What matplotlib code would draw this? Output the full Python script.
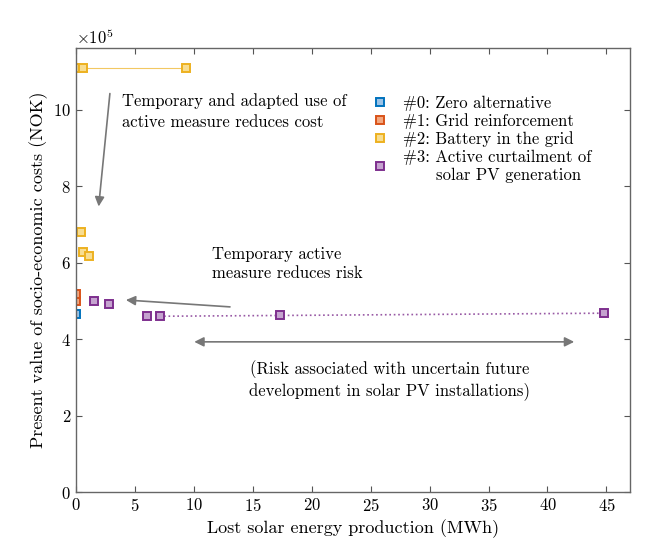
import matplotlib
matplotlib.use("Agg")
import matplotlib.pyplot as plt

plt.rcParams['font.family'] = ['cmr10', 'DejaVu Serif']
plt.rcParams['mathtext.fontset'] = 'cm'
plt.rcParams['axes.formatter.use_mathtext'] = True

# Data (values in units of 1e5 NOK)
alt0_x = [0.0]
alt0_y = [4.65]
alt1_x = [0.0, 0.0]
alt1_y = [5.0, 5.18]
alt2_x = [0.0, 0.6, 9.3, 0.4, 0.6, 1.1]
alt2_y = [11.1, 11.1, 11.1, 6.8, 6.28, 6.18]
alt2_line_x = [0.0, 9.3]
alt2_line_y = [11.1, 11.1]
alt3_x = [1.5, 2.8, 6.0, 7.1, 17.3, 44.8]
alt3_y = [5.0, 4.92, 4.6, 4.6, 4.62, 4.68]
alt3_line_x = [7.1, 17.3, 44.8]
alt3_line_y = [4.6, 4.62, 4.68]

labels = ["#0: Zero alternative", "#1: Grid reinforcement",
          "#2: Battery in the grid",
          "#3: Active curtailment of\n      solar PV generation"]
xticks = [0, 5, 10, 15, 20, 25, 30, 35, 40, 45]
yticks = [0, 2, 4, 6, 8, 10]

scale = 1e5
colors = ['#0072BD', '#D95319', '#EDB120', '#7E2F8E']
faces = ['#9cc3e6', '#f2a77f', '#f8dd90', '#c5a3cf']

fig = plt.figure(figsize=(6.59, 5.43), dpi=100)
ax = fig.add_axes([0.1153, 0.0939, 0.8407, 0.8177])

ax.plot(alt2_line_x, [v * scale for v in alt2_line_y], '-', color=colors[2], lw=0.8, alpha=0.7)
ax.plot(alt3_line_x, [v * scale for v in alt3_line_y], ':', color=colors[3], lw=1.2, alpha=0.8)

series = [(alt0_x, alt0_y), (alt1_x, alt1_y), (alt2_x, alt2_y), (alt3_x, alt3_y)]
handles = []
for (xs, ys), c, f, lab in zip(series, colors, faces, labels):
    h, = ax.plot(xs, [v * scale for v in ys], 's', ms=6, mec=c, mfc=f, mew=1.4,
                 linestyle='none', label=lab)
    handles.append(h)

ax.set_xlim(0, 47)
ax.set_ylim(0, 11.62 * scale)
ax.set_xticks(xticks)
ax.set_yticks([t * scale for t in yticks])
ax.ticklabel_format(axis='y', style='sci', scilimits=(5, 5), useMathText=True)
ax.tick_params(direction='in', top=True, right=True, labelsize=12, length=4, color='#555555')
ax.yaxis.get_offset_text().set_fontsize(12)
for s in ax.spines.values():
    s.set_color('#666666')
    s.set_linewidth(1.0)

ax.set_xlabel('Lost solar energy production (MWh)', fontsize=13)
ax.set_ylabel('Present value of socio-economic costs (NOK)', fontsize=13)

leg = ax.legend(handles=handles, loc='upper left', bbox_to_anchor=(0.515, 0.92),
                frameon=False, fontsize=12, handlelength=0.8, handletextpad=1.0,
                labelspacing=0.15, borderpad=0.2)

arrowprops = dict(arrowstyle='-|>', color='#777777', lw=1.2, mutation_scale=14)
ax.annotate('', xy=(1.9, 7.4 * scale), xytext=(2.9, 10.5 * scale), arrowprops=arrowprops)
ax.text(3.9, 9.95 * scale, 'Temporary and adapted use of\nactive measure reduces cost',
        fontsize=12, va='center', ha='left', linespacing=1.45)

ax.annotate('', xy=(4.0, 5.03 * scale), xytext=(13.3, 4.84 * scale), arrowprops=arrowprops)
ax.text(11.5, 5.96 * scale, 'Temporary active\nmeasure reduces risk',
        fontsize=12, va='center', ha='left', linespacing=1.3)

ax.annotate('', xy=(9.8, 3.93 * scale), xytext=(42.5, 3.93 * scale),
            arrowprops=dict(arrowstyle='<|-|>', color='#777777', lw=1.2, mutation_scale=14))
ax.text(26.6, 2.93 * scale, '(Risk associated with uncertain future\ndevelopment in solar PV installations)',
        fontsize=12, va='center', ha='center', linespacing=1.3)

fig.savefig('out.png', dpi=100)
